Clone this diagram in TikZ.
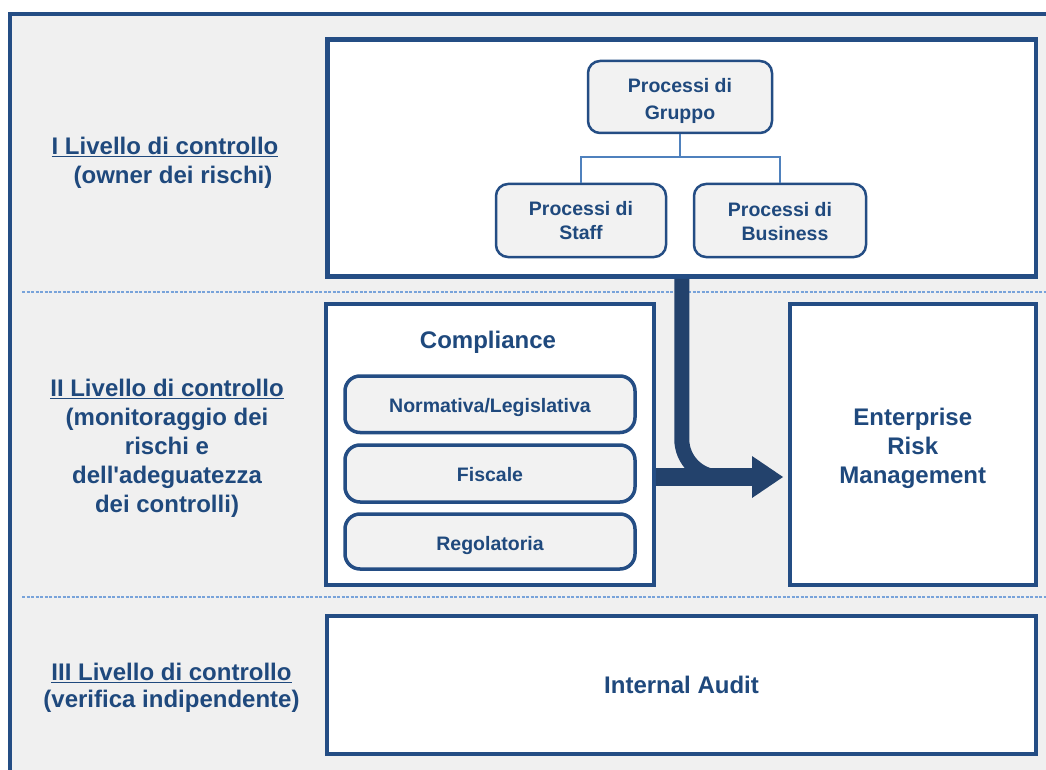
\documentclass[tikz,border=0pt]{standalone}
\usepackage{fontspec}
\setmainfont{Liberation Sans}[Ligatures=TeXOff]
\definecolor{txtblue}{RGB}{31,73,125}
\definecolor{boxblue}{RGB}{36,77,132}
\definecolor{arrowblue}{RGB}{35,66,108}
\definecolor{connblue}{RGB}{79,129,189}
\definecolor{sepblue}{RGB}{120,163,218}
\definecolor{bggray}{RGB}{240,240,240}
\definecolor{boxgray}{RGB}{242,242,242}
\tikzset{
  bigbox/.style={draw=boxblue, line width=4.5pt, fill=white, rectangle, inner sep=0pt},
  orgbox/.style={draw=boxblue, line width=2.5pt, fill=boxgray, rectangle, rounded corners=12pt, inner sep=0pt,
    text=txtblue, align=center, font=\fontsize{19.5}{24}\selectfont\bfseries},
  subbox/.style={draw=boxblue, line width=3.5pt, fill=boxgray, rectangle, rounded corners=15pt, inner sep=0pt,
    text=txtblue, align=center, font=\fontsize{19.5}{24}\selectfont\bfseries},
  bigtxt/.style={text=txtblue, align=center, font=\fontsize{24}{29}\selectfont\bfseries, inner sep=0pt},
  smalltxt/.style={text=txtblue, align=center, font=\fontsize{19.5}{24}\selectfont\bfseries, inner sep=0pt},
  conn/.style={draw=connblue, line width=2pt},
  sepline/.style={draw=sepblue, line width=1.2pt, dash pattern=on 3pt off 1.5pt},
  fatline/.style={draw=arrowblue, line cap=butt},
}
\begin{document}
\begin{tikzpicture}[x=1pt,y=-1pt]
\useasboundingbox (0,0) rectangle (1046,770);
\clip (0,0) rectangle (1046,770);
\fill[white] (0,0) rectangle (1046,770);
\draw[draw=boxblue, line width=4pt, fill=bggray] (10,14) rectangle (1080,800);

% separators
\coordinate (s1a) at (22,292);
\coordinate (s1b) at (1046,292);
\coordinate (s2a) at (22,597);
\coordinate (s2b) at (1046,597);
\draw[sepline] (s1a) -- (s1b);
\draw[sepline] (s2a) -- (s2b);

% big boxes
\node[bigbox, minimum width=708.5pt, minimum height=237pt] (top) at (681.75,158) {};
\node[bigbox, line width=4pt, minimum width=328pt, minimum height=281pt] (compl) at (490,444.5) {};
\node[bigbox, line width=4pt, minimum width=246.5pt, minimum height=281pt] (erm) at (912.75,444.5) {};
\node[bigtxt] (ermtxt) at (912.75,448) {Enterprise\\Risk\\Management};
\node[bigbox, line width=4pt, minimum width=709pt, minimum height=138pt, bigtxt] (audit) at (681.5,685) {Internal Audit};

% org chart
\node[orgbox, minimum width=184pt, minimum height=72pt] (gruppo) at (680,97) {};
\node[smalltxt, font=\fontsize{19.5}{27}\selectfont\bfseries] (gruppotxt) at (680,100.5) {Processi di\\Gruppo};
\node[orgbox, minimum width=170pt, minimum height=73pt] (staff) at (581,220.5) {Processi di\\Staff};
\node[orgbox, minimum width=172pt, minimum height=73pt] (business) at (780,220.5) {};
\node[smalltxt] (businesstxt) at (780,222) {Processi di\\\hspace*{10pt}Business};
\draw[conn] (gruppo.south) -- ++(0,23) -| (staff.north);
\draw[conn] (gruppo.south) -- ++(0,23) -| (business.north);

% compliance
\node[bigtxt] (compltitle) at (488,342) {Compliance};
\node[subbox, minimum width=290pt, minimum height=56.5pt] (norm) at (490,404.25) {\raisebox{-3.5pt}[\height][\depth]{Normativa/Legislativa}};
\node[subbox, minimum width=290pt, minimum height=57pt] (fisc) at (490,473.5) {\raisebox{-1pt}[\height][\depth]{Fiscale}};
\node[subbox, minimum width=290pt, minimum height=55pt] (rego) at (490,541.5) {\raisebox{-3.5pt}[\height][\depth]{Regolatoria}};

% big arrow
\coordinate (abase) at (752,477);
\coordinate (atip) at (783,477);
\draw[fatline, line width=15pt, rounded corners=38pt] (top.south) |- (abase);
\draw[fatline, line width=18pt] (compl.east |- abase) -- (abase);
\fill[arrowblue] ([yshift=-21pt]abase) -- (atip) -- ([yshift=21pt]abase) -- cycle;

% left labels
\node[bigtxt] (lev1) at (165,162.5) {\underline{I Livello di controllo}\\\hspace*{16pt}(owner dei rischi)};
\node[bigtxt] (lev2) at (167,448) {\underline{II Livello di controllo}\\(monitoraggio dei\\rischi e\\dell'adeguatezza\\dei controlli)};
\node[bigtxt, font=\fontsize{24}{27}\selectfont\bfseries] (lev3) at (171.5,688) {\underline{III Livello di controllo}\\(verifica indipendente)};
\end{tikzpicture}
\end{document}
